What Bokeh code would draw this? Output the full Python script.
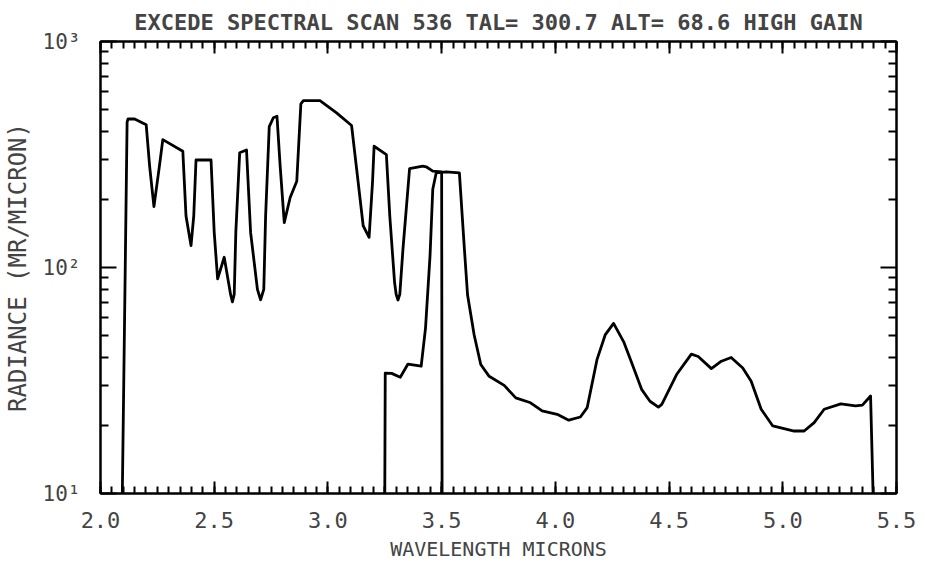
from bokeh.plotting import figure
from bokeh.models import FixedTicker, SingleIntervalTicker, LinearAxis, LogAxis
from bokeh.embed import file_html
from bokeh.resources import INLINE

# --- spectral scan, first filter segment (2.1 - 3.5 micron) ---
wl_a = [2.096, 2.117, 2.121, 2.150, 2.201, 2.216, 2.235, 2.259, 2.274, 2.362,
        2.376, 2.398, 2.410, 2.420, 2.486, 2.500, 2.515, 2.544, 2.572, 2.580,
        2.588, 2.595, 2.612, 2.642, 2.660, 2.690, 2.704, 2.718, 2.726, 2.742,
        2.760, 2.776, 2.790, 2.808, 2.834, 2.863, 2.881, 2.892, 2.965, 3.038,
        3.104, 3.133, 3.155, 3.181, 3.196, 3.203, 3.257, 3.272, 3.293, 3.300,
        3.308, 3.316, 3.330, 3.359, 3.417, 3.432, 3.461, 3.500, 3.502]
rad_a = [10, 440, 454, 454, 428, 281, 186, 281, 368, 327,
         169, 125, 169, 299, 299, 143, 89, 111, 76, 70.5,
         76, 143, 322, 331, 143, 80, 72, 80, 169, 420,
         460, 467, 281, 158, 204, 241, 530, 547, 547, 483,
         425, 238, 153, 136, 238, 344, 316, 169, 86, 76,
         71.8, 76, 121, 274, 281, 279, 267, 265, 10]

# --- spectral scan, second filter segment (3.25 - 5.4 micron) ---
wl_b = [3.250, 3.252, 3.280, 3.318, 3.352, 3.410, 3.429, 3.449, 3.461, 3.476,
        3.520, 3.578, 3.600, 3.614, 3.643, 3.672, 3.709, 3.775, 3.826, 3.891,
        3.942, 4.008, 4.059, 4.110, 4.140, 4.183, 4.219, 4.256, 4.300, 4.336,
        4.380, 4.416, 4.453, 4.468, 4.533, 4.598, 4.628, 4.686, 4.730, 4.773,
        4.824, 4.861, 4.905, 4.956, 5.050, 5.094, 5.138, 5.182, 5.255, 5.320,
        5.350, 5.386, 5.397]
rad_b = [10, 34.1, 34, 32.7, 37.4, 36.6, 53.8, 113, 222, 262,
         265, 262, 121, 75.5, 50.3, 37.2, 33, 30.1, 26.5, 25.2,
         23.2, 22.4, 21.1, 21.8, 24, 39.1, 50.3, 56.6, 47, 37.8,
         28.8, 25.6, 24.1, 24.8, 33.6, 41.4, 40.4, 35.7, 38.5, 40.0,
         35.9, 31.4, 23.6, 19.9, 18.9, 18.9, 20.6, 23.6, 24.9, 24.4,
         24.6, 27.0, 10]

# --- axis ticks ---
x_major = [2.0, 2.5, 3.0, 3.5, 4.0, 4.5, 5.0, 5.5]
x_labels = ["2.0", "2.5", "3.0", "3.5", "4.0", "4.5", "5.0", "5.5"]
y_major = [10, 100, 1000]
y_minor = [20, 30, 40, 50, 60, 70, 80, 90, 200, 300, 400, 500, 600, 700, 800, 900]
y_labels = ["10¹", "10²", "10³"]

TITLE = "EXCEDE SPECTRAL SCAN 536 TAL= 300.7 ALT= 68.6 HIGH GAIN"
FONT = "DejaVu Sans Mono"

p = figure(width=925, height=566, y_axis_type="log",
           x_range=(2.0, 5.5), y_range=(10, 1000),
           output_backend="svg", toolbar_location=None,
           min_border_left=96, min_border_right=29,
           min_border_top=38, min_border_bottom=73)

p.title.text = TITLE
p.title.align = "center"
p.title.text_font = FONT
p.title.text_font_size = "22px"
p.title.text_font_style = "bold"
p.title.standoff = 14

p.grid.visible = False
p.background_fill_color = "white"
p.border_fill_color = "white"
p.outline_line_color = "black"
p.outline_line_width = 2


def x_ticker():
    return SingleIntervalTicker(interval=0.5, num_minor_ticks=10)


def y_ticker():
    return FixedTicker(ticks=y_major, minor_ticks=y_minor)


def style_axis(ax, major_len, minor_len):
    ax.axis_line_color = "black"
    ax.axis_line_width = 2
    ax.major_tick_line_color = "black"
    ax.major_tick_line_width = 2
    ax.minor_tick_line_color = "black"
    ax.minor_tick_line_width = 2
    ax.major_tick_in = major_len
    ax.major_tick_out = 0
    ax.minor_tick_in = minor_len
    ax.minor_tick_out = 0


# bottom axis
xa = p.xaxis[0]
xa.ticker = x_ticker()
xa.major_label_overrides = {v: s for v, s in zip(x_major, x_labels)}
style_axis(xa, 12, 7)
xa.major_label_text_font = FONT
xa.major_label_text_font_size = "22px"
xa.major_label_standoff = 18
xa.axis_label = "WAVELENGTH MICRONS"
xa.axis_label_text_font = FONT
xa.axis_label_text_font_size = "20px"
xa.axis_label_text_font_style = "normal"
xa.axis_label_standoff = 6

# left axis
ya = p.yaxis[0]
ya.ticker = y_ticker()
ya.major_label_overrides = {v: s for v, s in zip(y_major, y_labels)}
style_axis(ya, 16, 8)
ya.major_label_text_font = FONT
ya.major_label_text_font_size = "21px"
ya.major_label_standoff = 20
ya.axis_label = "RADIANCE (MR/MICRON)"
ya.axis_label_text_font = FONT
ya.axis_label_text_font_size = "24px"
ya.axis_label_text_font_style = "normal"
ya.axis_label_standoff = 8

# mirrored tick axes on top and right
top = LinearAxis(ticker=x_ticker())
style_axis(top, 12, 7)
top.major_label_text_color = None
top.major_label_text_font_size = "1px"
top.major_label_standoff = 0
p.add_layout(top, "above")

right = LogAxis(ticker=y_ticker())
style_axis(right, 16, 8)
right.major_label_text_color = None
right.major_label_text_font_size = "1px"
right.major_label_standoff = 0
p.add_layout(right, "right")

p.line(wl_a, rad_a, line_color="black", line_width=2.8, line_join="round")
p.line(wl_b, rad_b, line_color="black", line_width=2.8, line_join="round")

open("out.html", "w").write(file_html(p, INLINE))
